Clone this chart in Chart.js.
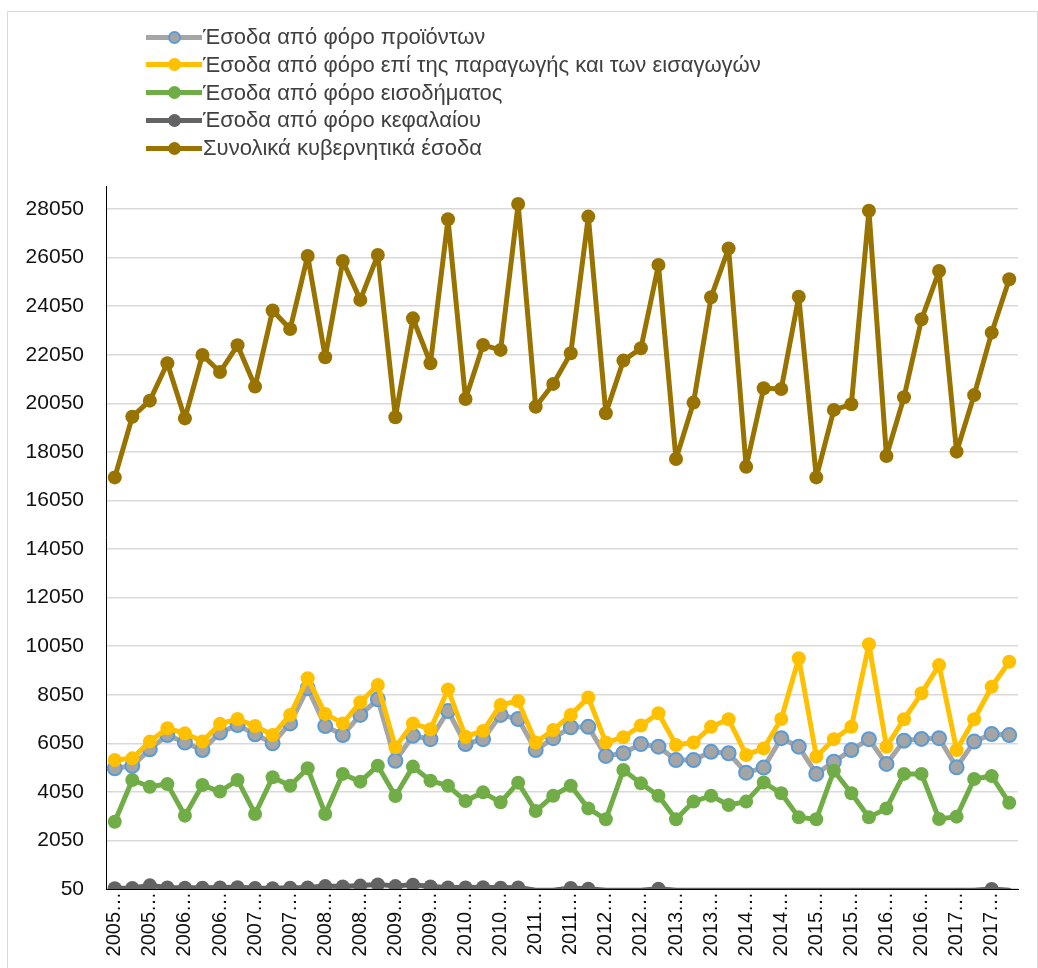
<!DOCTYPE html>
<html lang="el">
<head>
<meta charset="utf-8">
<title>Κυβερνητικά έσοδα</title>
<script src="https://cdn.jsdelivr.net/npm/chart.js@4.4.1/dist/chart.umd.min.js"></script>
<style>
  html, body { margin: 0; padding: 0; background: #fff; }
  #wrap { position: relative; width: 1038px; height: 968px; overflow: hidden; }
  #frame { position: absolute; left: 7px; top: 11px; width: 1029px; height: 1000px;
           border: 1px solid #d9d9d9; pointer-events: none; }
  #legend { position: absolute; left: 146px; top: 23px;
            font-family: 'Liberation Sans', Arial, sans-serif; font-size: 22px; color: #404040; }
  .item { position: relative; height: 27.8px; line-height: 27.8px; white-space: nowrap; padding-left: 57px; }
  .item .ln { position: absolute; left: 0; top: 11.5px; width: 56px; height: 5px; }
  .item .dot { position: absolute; left: 21.5px; top: 7.5px; width: 13px; height: 13px;
               border-radius: 50%; box-sizing: border-box; }
</style>
</head>
<body>
<div id="wrap">
  <canvas id="revChart"></canvas>
  <div id="legend"></div>
  <div id="frame"></div>
</div>
<script>
/* =========================
   Κυβερνητικά έσοδα ανά τρίμηνο
========================= */
const GREY = '#A5A5A5';
const BLUE = '#5B9BD5';
const GOLD = '#FFC000';
const GREEN = '#70AD47';
const DARK = '#636363';
const BROWN = '#997300';
const GRID = '#D9D9D9';

const quarters = [
  '2005Q1','2005Q2','2005Q3','2005Q4','2006Q1','2006Q2','2006Q3','2006Q4',
  '2007Q1','2007Q2','2007Q3','2007Q4','2008Q1','2008Q2','2008Q3','2008Q4',
  '2009Q1','2009Q2','2009Q3','2009Q4','2010Q1','2010Q2','2010Q3','2010Q4',
  '2011Q1','2011Q2','2011Q3','2011Q4','2012Q1','2012Q2','2012Q3','2012Q4',
  '2013Q1','2013Q2','2013Q3','2013Q4','2014Q1','2014Q2','2014Q3','2014Q4',
  '2015Q1','2015Q2','2015Q3','2015Q4','2016Q1','2016Q2','2016Q3','2016Q4',
  '2017Q1','2017Q2','2017Q3','2017Q4'
];

const yTicks = [50, 2050, 4050, 6050, 8050, 10050, 12050, 14050, 16050,
                18050, 20050, 22050, 24050, 26050, 28050];

// Έσοδα από φόρο προϊόντων
const products = [5020, 5120, 5800, 6390, 6080, 5770, 6490, 6800, 6420, 6050,
                  6870, 8320, 6760, 6390, 7220, 7860, 5330, 6360, 6220, 7380,
                  6020, 6220, 7220, 7050, 5770, 6260, 6710, 6730, 5530, 5640,
                  6020, 5910, 5360, 5360, 5700, 5640, 4840, 5050, 6260, 5910,
                  4790, 5290, 5770, 6220, 5200, 6160, 6230, 6260, 5060, 6120,
                  6430, 6390];

// Έσοδα από φόρο επί της παραγωγής και των εισαγωγών
const production = [5360, 5430, 6120, 6670, 6460, 6120, 6850, 7050, 6760, 6390,
                    7220, 8730, 7260, 6870, 7740, 8450, 5890, 6870, 6630, 8270,
                    6320, 6560, 7630, 7790, 6080, 6600, 7220, 7940, 6080, 6300,
                    6780, 7290, 5980, 6080, 6730, 7040, 5570, 5840, 7050, 9550,
                    5500, 6220, 6730, 10130, 5910, 7040, 8110, 9270, 5770, 7040,
                    8380, 9410];

// Έσοδα από φόρο εισοδήματος
const income = [2820, 4540, 4260, 4370, 3070, 4330, 4060, 4540, 3140, 4650,
                4300, 5020, 3140, 4790, 4470, 5130, 3880, 5090, 4510, 4300,
                3670, 4030, 3620, 4430, 3260, 3890, 4300, 3370, 2920, 4950,
                4400, 3890, 2920, 3650, 3890, 3510, 3650, 4440, 3990, 3000,
                2920, 4920, 3990, 3000, 3370, 4790, 4790, 2930, 3030, 4580,
                4700, 3600];

// Έσοδα από φόρο κεφαλαίου (null = κενό κελί, σχεδιάζεται στο μηδέν χωρίς δείκτη)
const capital = [80, 90, 200, 110, 100, 100, 110, 120, 90, 80,
                 100, 110, 170, 150, 190, 240, 170, 230, 150, 110,
                 110, 120, 100, 110, null, null, 90, 60, null, null,
                 null, 60, null, null, null, null, null, null, null, null,
                 null, null, null, null, null, null, null, null, null, null,
                 50, null];

// Συνολικά κυβερνητικά έσοδα
const total = [17000, 19500, 20160, 21700, 19430, 22040, 21340, 22440, 20740, 23870,
               23110, 26120, 21950, 25910, 24310, 26160, 19480, 23550, 21700, 27630,
               20230, 22450, 22250, 28260, 19910, 20850, 22110, 27740, 19640, 21810,
               22320, 25750, 17760, 20080, 24420, 26430, 17440, 20670, 20640, 24440,
               17000, 19780, 20010, 27980, 17880, 20300, 23510, 25500, 18060, 20390,
               22960, 25160];

function series(label, data, line, fill, edge, order, radius) {
  return {
    label, data, order,
    borderColor: line,
    backgroundColor: fill,
    pointBackgroundColor: fill,
    pointBorderColor: edge,
    pointBorderWidth: edge === fill ? 0 : 2,
    pointRadius: radius || 7,
    pointHoverRadius: radius || 7,
    borderWidth: 5,
    borderJoinStyle: 'round',
    borderCapStyle: 'round',
    tension: 0,
    fill: false
  };
}

const datasets = [
  series('Έσοδα από φόρο προϊόντων', products, GREY, GREY, BLUE, 5),
  series('Έσοδα από φόρο επί της παραγωγής και των εισαγωγών', production, GOLD, GOLD, GOLD, 4),
  series('Έσοδα από φόρο εισοδήματος', income, GREEN, GREEN, GREEN, 3),
  series('Έσοδα από φόρο κεφαλαίου', capital.map(v => v === null ? 0 : v), DARK, DARK, DARK, 2,
         capital.map(v => v === null ? 0 : 7)),
  series('Συνολικά κυβερνητικά έσοδα', total, BROWN, BROWN, BROWN, 1)
];

// 1. Legend (vertical list, top left)
const legendBox = document.getElementById('legend');
datasets.forEach(ds => {
  const item = document.createElement('div');
  item.className = 'item';
  const ln = document.createElement('div');
  ln.className = 'ln';
  ln.style.background = ds.borderColor;
  const dot = document.createElement('div');
  dot.className = 'dot';
  dot.style.background = ds.pointBackgroundColor;
  if (ds.pointBorderColor !== ds.pointBackgroundColor) {
    dot.style.border = '2px solid ' + ds.pointBorderColor;
  }
  item.appendChild(ln);
  item.appendChild(dot);
  item.appendChild(document.createTextNode(ds.label));
  legendBox.appendChild(item);
});

// 2. Chart
const tickFont = { family: "'Liberation Sans', Arial, sans-serif", size: 21 };

new Chart(document.getElementById('revChart').getContext('2d'), {
  type: 'line',
  data: { labels: quarters, datasets },
  options: {
    responsive: true,
    maintainAspectRatio: false,
    animation: false,
    layout: { padding: { top: 186, right: 20, left: 0, bottom: 0 } },
    plugins: { legend: { display: false }, tooltip: { enabled: false } },
    scales: {
      x: {
        type: 'category',
        offset: true,
        grid: { display: false, drawTicks: false },
        border: { display: true, color: '#000', width: 1 },
        ticks: {
          autoSkip: false,
          minRotation: 90,
          maxRotation: 90,
          padding: 3,
          color: '#111',
          font: { family: tickFont.family, size: 20 },
          callback: (v, i) => i % 2 === 0 ? quarters[i].slice(0, 4) + '…' : ''
        },
        afterFit: s => { s.height = 79; }
      },
      y: {
        min: 50,
        max: 29000,
        grid: { color: GRID, lineWidth: 1.5, drawTicks: false },
        border: { display: true, color: '#000', width: 1 },
        ticks: { color: '#111', font: tickFont, padding: 22, callback: v => String(v) },
        afterBuildTicks: s => { s.ticks = yTicks.map(v => ({ value: v })); },
        afterFit: s => { s.width = 106; }
      }
    }
  }
});
</script>
</body>
</html>
